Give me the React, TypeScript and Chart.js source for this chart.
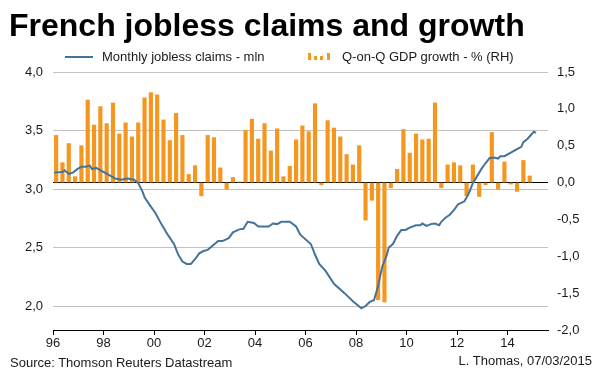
import React, { useEffect, useRef } from "react";
import { Chart, registerables } from "chart.js";

Chart.register(...registerables);

// ---- Data ----
const claimMonths = [
  "1996-01", "1996-05", "1996-06", "1996-08", "1996-10", "1996-12",
  "1997-02", "1997-04", "1997-06", "1997-07", "1997-09", "1997-12",
  "1998-03", "1998-06", "1998-09", "1998-12",
  "1999-03", "1999-05", "1999-07", "1999-08", "1999-11",
  "2000-01", "2000-04", "2000-07", "2000-10", "2000-12",
  "2001-02", "2001-04", "2001-06", "2001-08", "2001-10", "2001-12",
  "2002-02", "2002-04", "2002-07", "2002-09", "2002-12",
  "2003-02", "2003-05", "2003-07", "2003-09", "2003-12",
  "2004-02", "2004-05", "2004-07", "2004-09", "2004-11",
  "2005-01", "2005-05", "2005-08", "2005-10",
  "2006-03", "2006-05", "2006-07", "2006-10",
  "2007-02", "2007-07", "2007-11",
  "2008-03", "2008-05", "2008-07", "2008-09", "2008-10", "2008-11", "2008-12",
  "2009-01", "2009-03", "2009-04", "2009-06", "2009-08", "2009-10", "2009-12",
  "2010-02", "2010-05", "2010-07", "2010-08", "2010-10", "2010-12",
  "2011-02", "2011-04", "2011-05", "2011-07", "2011-09", "2011-11",
  "2012-01", "2012-04", "2012-06", "2012-08", "2012-10", "2012-12",
  "2013-02", "2013-04", "2013-06", "2013-08", "2013-09", "2013-11",
  "2014-02", "2014-05", "2014-07", "2014-08", "2014-10", "2014-12",
  "2015-01", "2015-02",
];
const claimValues = [
  3.14, 3.145, 3.16, 3.13, 3.14, 3.17,
  3.19, 3.19, 3.2, 3.17, 3.18, 3.15,
  3.12, 3.09, 3.08, 3.09,
  3.08, 3.05, 2.98, 2.93, 2.85,
  2.8, 2.7, 2.61, 2.53, 2.44,
  2.38, 2.36, 2.36, 2.4, 2.45, 2.47,
  2.48, 2.51, 2.555, 2.555, 2.58,
  2.63, 2.655, 2.66, 2.72, 2.71,
  2.68, 2.68, 2.68, 2.705, 2.7,
  2.72, 2.72, 2.68, 2.61,
  2.53, 2.44, 2.36, 2.3,
  2.19, 2.11, 2.04,
  1.98, 2.0, 2.035, 2.05, 2.11, 2.17, 2.26,
  2.34, 2.43, 2.5, 2.53, 2.6, 2.65, 2.65,
  2.67, 2.69, 2.69, 2.705, 2.685, 2.7,
  2.705, 2.69, 2.72, 2.755, 2.78, 2.82,
  2.87, 2.895, 2.96, 3.05, 3.11, 3.17,
  3.22, 3.265, 3.27, 3.26, 3.28, 3.28,
  3.31, 3.34, 3.36, 3.4, 3.43, 3.47,
  3.49, 3.48,
];

const gdpStartYear = 1996; // first quarter: 1996 Q1
const gdpGrowth = [
  0.64, 0.27, 0.53, 0.08, // 1996
  0.5, 1.12, 0.78, 1.03, // 1997
  0.8, 1.08, 0.66, 0.81, // 1998
  0.62, 0.81, 1.15, 1.22, // 1999
  1.19, 0.85, 0.57, 0.94, // 2000
  0.64, 0.11, 0.23, -0.18, // 2001
  0.64, 0.61, 0.2, -0.09, // 2002
  0.07, 0.01, 0.71, 0.86, // 2003
  0.59, 0.8, 0.43, 0.73, // 2004
  0.08, 0.22, 0.58, 0.77, // 2005
  0.69, 1.07, -0.03, 0.84, // 2006
  0.74, 0.62, 0.38, 0.24, // 2007
  0.5, -0.51, -0.24, -1.59, // 2008
  -1.62, -0.07, 0.18, 0.72, // 2009
  0.4, 0.66, 0.58, 0.59, // 2010
  1.08, -0.07, 0.24, 0.27, // 2011
  0.23, -0.18, 0.24, -0.19, // 2012
  -0.03, 0.68, -0.09, 0.28, // 2013
  -0.02, -0.12, 0.3, 0.09, // 2014
];

const xTickYears = [1996, 1998, 2000, 2002, 2004, 2006, 2008, 2010, 2012, 2014];
const leftTicks = [2.0, 2.5, 3.0, 3.5, 4.0];
const rightTicks = [-2.0, -1.5, -1.0, -0.5, 0.0, 0.5, 1.0, 1.5];

const TITLE = "French jobless claims and growth";
const LINE_LABEL = "Monthly jobless claims - mln";
const BAR_LABEL = "Q-on-Q GDP growth - % (RH)";
const SOURCE = "Source: Thomson Reuters Datastream";
const AUTHOR = "L. Thomas, 07/03/2015";

// ---- Styles ----
const LINE_COLOR = "#44739a";
const BAR_COLOR = "#f5961e";
const GRID_COLOR = "#c3c3c3";
const TEXT_COLOR = "#1a1a1a";
const FONT = '"Liberation Sans", Arial, Helvetica, sans-serif';

const fmt = (v: number) => v.toFixed(1).replace(".", ",");

export default function App() {
  const canvasRef = useRef<HTMLCanvasElement | null>(null);

  useEffect(() => {
    const canvas = canvasRef.current;
    if (!canvas) return;

    const claimPoints = claimMonths.map((m, i) => {
      const [y, mo] = m.split("-").map(Number);
      return { x: y + (mo - 0.5) / 12, y: claimValues[i] };
    });
    const gdpPoints = gdpGrowth.map((v, i) => ({
      x: gdpStartYear + (i + 0.5) / 4,
      y: v,
    }));

    const tickFont = { family: FONT, size: 13 };

    const chart = new Chart(canvas, {
      type: "bar",
      data: {
        datasets: [
          {
            type: "line",
            label: LINE_LABEL,
            data: claimPoints,
            xAxisID: "x",
            yAxisID: "y",
            borderColor: LINE_COLOR,
            borderWidth: 2,
            pointRadius: 0,
            tension: 0,
            order: 0,
          } as any,
          {
            type: "bar",
            label: BAR_LABEL,
            data: gdpPoints,
            xAxisID: "x",
            yAxisID: "y1",
            backgroundColor: BAR_COLOR,
            barThickness: 3.5,
            borderWidth: 0,
            order: 1,
          } as any,
        ],
      },
      options: {
        responsive: false,
        animation: false,
        events: [],
        layout: { padding: { top: 72, left: 0, right: 0, bottom: 0 } },
        plugins: {
          legend: { display: false },
          tooltip: { enabled: false },
          title: { display: false },
        },
        scales: {
          x: {
            type: "linear",
            min: 1996,
            max: 2015.6,
            offset: false,
            afterBuildTicks: (s: any) => {
              s.ticks = xTickYears.map((v) => ({ value: v }));
            },
            afterFit: (s: any) => {
              s.height = 46;
            },
            ticks: {
              font: tickFont,
              color: TEXT_COLOR,
              padding: 1,
              maxRotation: 0,
              autoSkip: false,
              callback: (v: any) => String(v).slice(2),
            },
            grid: {
              offset: false,
              drawOnChartArea: false,
              drawTicks: true,
              tickLength: 5,
              color: "#000",
            },
            border: { display: true, color: "#000", width: 1 },
          },
          y: {
            type: "linear",
            position: "left",
            min: 1.795,
            max: 4.0,
            afterBuildTicks: (s: any) => {
              s.ticks = leftTicks.map((v) => ({ value: v }));
            },
            afterFit: (s: any) => {
              s.width = 53;
            },
            ticks: {
              font: tickFont,
              color: TEXT_COLOR,
              padding: 10,
              callback: (v: any) => fmt(Number(v)),
            },
            grid: { color: GRID_COLOR, drawTicks: false, lineWidth: 1 },
            border: { display: false },
          },
          y1: {
            type: "linear",
            position: "right",
            min: -2.0,
            max: 1.5,
            afterBuildTicks: (s: any) => {
              s.ticks = rightTicks.map((v) => ({ value: v }));
            },
            afterFit: (s: any) => {
              s.width = 52;
            },
            ticks: {
              font: tickFont,
              color: TEXT_COLOR,
              padding: 9,
              callback: (v: any) => fmt(Number(v)),
            },
            grid: {
              drawTicks: false,
              lineWidth: 1,
              color: (ctx: any) =>
                ctx.tick && ctx.tick.value === 0 ? "#000" : "rgba(0,0,0,0)",
            },
            border: { display: false },
          },
        },
      } as any,
    });

    return () => chart.destroy();
  }, []);

  const text13: React.CSSProperties = {
    position: "absolute",
    fontFamily: FONT,
    fontSize: 13,
    lineHeight: "16px",
    color: TEXT_COLOR,
    whiteSpace: "nowrap",
  };

  const iconBar = (left: number, top: number, w: number, h: number) => (
    <span
      style={{
        position: "absolute",
        left,
        top,
        width: w,
        height: h,
        background: BAR_COLOR,
      }}
    />
  );

  return (
    <div
      style={{
        position: "absolute",
        left: 0,
        top: 0,
        width: 600,
        height: 376,
        background: "#fff",
        overflow: "hidden",
      }}
    >
      <canvas
        ref={canvasRef}
        width={600}
        height={376}
        style={{ position: "absolute", left: 0, top: 0, display: "block" }}
      />
      <div
        style={{
          position: "absolute",
          left: 9,
          top: 9,
          fontFamily: FONT,
          fontWeight: "bold",
          fontSize: 32,
          lineHeight: "32px",
          color: "#000",
          whiteSpace: "nowrap",
        }}
      >
        {TITLE}
      </div>
      {/* legend */}
      <span
        style={{
          position: "absolute",
          left: 65,
          top: 56,
          width: 28,
          height: 2,
          background: LINE_COLOR,
        }}
      />
      <div style={{ ...text13, left: 102, top: 49 }}>{LINE_LABEL}</div>
      {iconBar(308, 53, 3, 7)}
      {iconBar(314, 56, 3, 4)}
      {iconBar(320, 56, 3, 4)}
      {iconBar(327, 53, 3, 7)}
      <div style={{ ...text13, left: 342, top: 49 }}>{BAR_LABEL}</div>
      {/* footer */}
      <div style={{ ...text13, left: 10, top: 355 }}>{SOURCE}</div>
      <div style={{ ...text13, right: 8, top: 353, textAlign: "right" }}>
        {AUTHOR}
      </div>
    </div>
  );
}
